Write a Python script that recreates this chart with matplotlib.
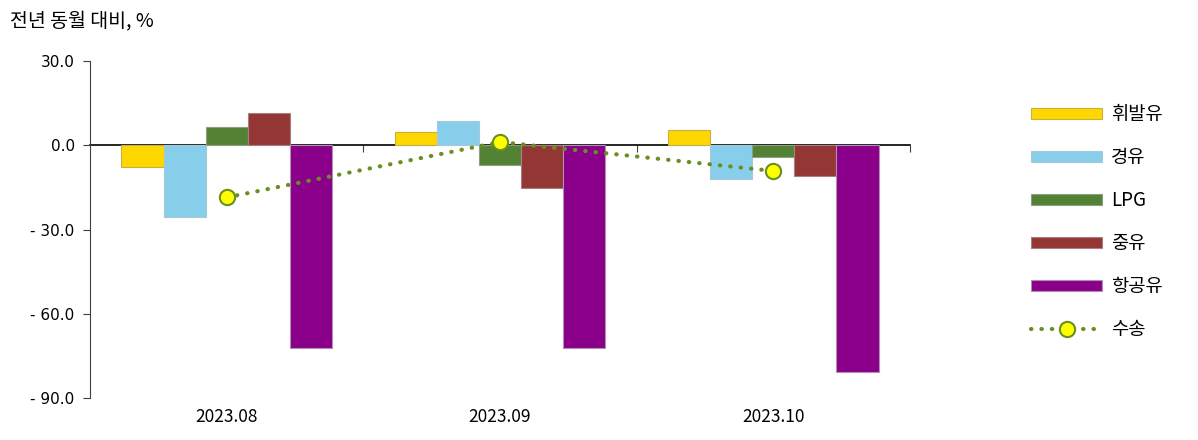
import matplotlib
matplotlib.use("Agg")
import matplotlib.pyplot as plt
import numpy as np
from matplotlib.patches import Patch
from matplotlib.lines import Line2D

plt.rcParams['font.family'] = ['Noto Sans CJK KR', 'DejaVu Sans']

categories = ["2023.08", "2023.09", "2023.10"]
series_names = ["휘발유", "경유", "LPG", "중유", "항공유"]
gasoline = [-7.9, 4.5, 5.2]
diesel = [-25.5, 8.5, -12.1]
lpg = [6.5, -7.2, -4.4]
heavy_oil = [11.3, -15.4, -11.0]
jet_fuel = [-72.0, -72.2, -80.7]
transport = [-18.6, 1.1, -9.2]
line_name = "수송"
y_ticks = [30.0, 0.0, -30.0, -60.0, -90.0]
y_title = "전년 동월 대비, %"

colors = ["#FFD700", "#87CEEB", "#548235", "#943634", "#8B008B"]
edge_colors = ["#C8B040", "#A8C8D8", "#8AA080", "#A88080", "#B090B0"]
line_color = "#6B8E23"

fig = plt.figure(figsize=(11.98, 4.4), dpi=100)
ax = fig.add_axes([90/1198, 1 - 398.3/440, 820/1198, (398.3-60.7)/440])

x = np.arange(len(categories))
bw = 0.154
all_series = [gasoline, diesel, lpg, heavy_oil, jet_fuel]
for i, (vals, c, ec) in enumerate(zip(all_series, colors, edge_colors)):
    ax.bar(x + (i - 2) * bw, vals, width=bw, color=c, edgecolor=ec, linewidth=0.8, zorder=2)

ax.plot(x, transport, color=line_color, linestyle=(0, (0.1, 2.4)), linewidth=3,
        dash_capstyle='round', zorder=4)
ax.plot(x, transport, linestyle='none', marker='o', markersize=11,
        markerfacecolor='#FFFF00', markeredgecolor=line_color, markeredgewidth=1.5, zorder=5)

ax.set_xlim(-0.5, 2.5)
ax.set_ylim(-90, 30)
ax.set_yticks(y_ticks)

def fmt(v):
    if v < 0:
        return "- {:.1f}".format(-v)
    return "{:.1f}".format(v)

ax.set_yticklabels([fmt(v) for v in y_ticks], fontsize=11, family='DejaVu Sans')
ax.tick_params(axis='y', direction='out', length=5, color='#404040', pad=6)

ax.set_xticks(x)
ax.set_xticklabels(categories, fontsize=12.5)
ax.tick_params(axis='x', length=0, pad=7)

for s in ['top', 'right', 'bottom']:
    ax.spines[s].set_visible(False)
ax.spines['left'].set_color('#404040')

sec = ax.secondary_xaxis(0.75)
sec.set_xticks([0.5, 1.5, 2.5])
sec.set_xticklabels([])
sec.tick_params(axis='x', which='both', direction='in', length=5, color='#404040',
                labelbottom=False, labeltop=False)
for s in sec.spines.values():
    s.set_color('black')
    s.set_linewidth(1.2)

fig.text(10/1198, 1 - 22/440, y_title, fontsize=14, va='center', ha='left')

handles = [Patch(facecolor=c, edgecolor=ec, linewidth=0.8) for c, ec in zip(colors, edge_colors)]
handles.append(Line2D([0], [0], color=line_color, linestyle=(0, (0.1, 2.4)), linewidth=3,
                      dash_capstyle='round', marker='o', markersize=11,
                      markerfacecolor='#FFFF00', markeredgecolor=line_color, markeredgewidth=1.5))
fig.legend(handles, series_names + [line_name], loc='upper left',
           bbox_to_anchor=(1014/1198, 1 - 87/440), frameon=False, fontsize=13.5,
           handlelength=3.8, handleheight=0.55, labelspacing=1.18, handletextpad=0.48)

fig.savefig("out.png", dpi=100)
